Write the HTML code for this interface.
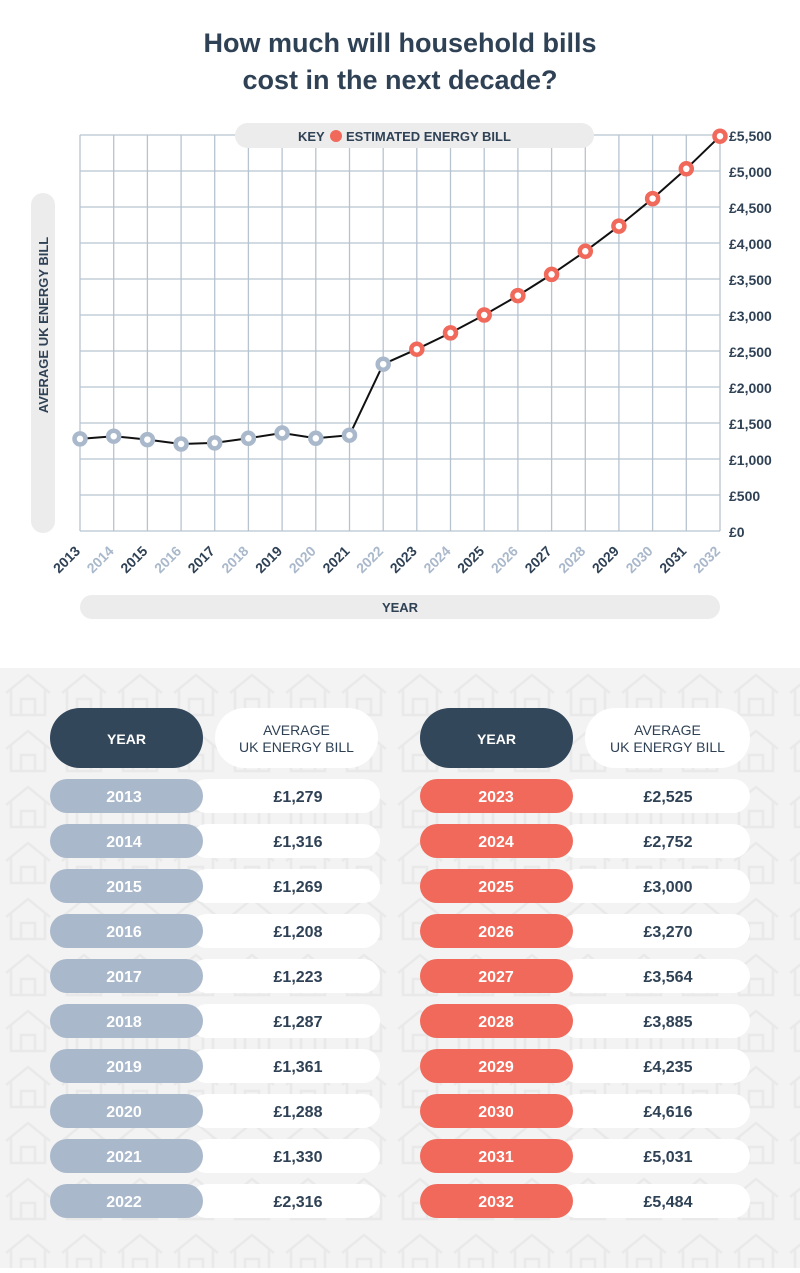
<!DOCTYPE html>
<html><head><meta charset="utf-8"><style>
body{margin:0;width:800px;height:1268px;background:#fff;font-family:"Liberation Sans",sans-serif;overflow:hidden}
</style></head><body>
<svg width="800" height="1268" viewBox="0 0 800 1268" xmlns="http://www.w3.org/2000/svg" font-family="Liberation Sans, sans-serif">
<defs>
<pattern id="h" x="0" y="668" width="56" height="56" patternUnits="userSpaceOnUse">
<path d="M6 25 L28 7 L50 25 M11 21 V47 H45 V21 M21 47 V31 H35 V47" fill="none" stroke="#e9e9e9" stroke-width="2.5"/>
</pattern>
</defs>
<text x="400" y="52" text-anchor="middle" font-size="27" font-weight="bold" fill="#2f4155">How much will household bills</text>
<text x="400" y="89" text-anchor="middle" font-size="27" font-weight="bold" fill="#2f4155">cost in the next decade?</text>
<g stroke="#b8c3d0" stroke-width="1.3">
<line x1="80" y1="135" x2="720" y2="135"/><line x1="80" y1="171" x2="720" y2="171"/><line x1="80" y1="207" x2="720" y2="207"/><line x1="80" y1="243" x2="720" y2="243"/><line x1="80" y1="279" x2="720" y2="279"/><line x1="80" y1="315" x2="720" y2="315"/><line x1="80" y1="351" x2="720" y2="351"/><line x1="80" y1="387" x2="720" y2="387"/><line x1="80" y1="423" x2="720" y2="423"/><line x1="80" y1="459" x2="720" y2="459"/><line x1="80" y1="495" x2="720" y2="495"/><line x1="80" y1="531" x2="720" y2="531"/>
<line x1="80" y1="135" x2="80" y2="531"/><line x1="113.7" y1="135" x2="113.7" y2="531"/><line x1="147.4" y1="135" x2="147.4" y2="531"/><line x1="181.1" y1="135" x2="181.1" y2="531"/><line x1="214.7" y1="135" x2="214.7" y2="531"/><line x1="248.4" y1="135" x2="248.4" y2="531"/><line x1="282.1" y1="135" x2="282.1" y2="531"/><line x1="315.8" y1="135" x2="315.8" y2="531"/><line x1="349.5" y1="135" x2="349.5" y2="531"/><line x1="383.2" y1="135" x2="383.2" y2="531"/><line x1="416.8" y1="135" x2="416.8" y2="531"/><line x1="450.5" y1="135" x2="450.5" y2="531"/><line x1="484.2" y1="135" x2="484.2" y2="531"/><line x1="517.9" y1="135" x2="517.9" y2="531"/><line x1="551.6" y1="135" x2="551.6" y2="531"/><line x1="585.3" y1="135" x2="585.3" y2="531"/><line x1="618.9" y1="135" x2="618.9" y2="531"/><line x1="652.6" y1="135" x2="652.6" y2="531"/><line x1="686.3" y1="135" x2="686.3" y2="531"/><line x1="720" y1="135" x2="720" y2="531"/>
</g>
<rect x="235" y="123" width="359" height="25" rx="12.5" fill="#ececec"/>
<text x="298" y="141" font-size="13" font-weight="bold" fill="#2f4155">KEY</text>
<circle cx="336" cy="136" r="6" fill="#f0695a"/>
<text x="346" y="141" font-size="13" font-weight="bold" fill="#2f4155">ESTIMATED ENERGY BILL</text>
<rect x="31" y="193" width="24" height="340" rx="12" fill="#ececec"/>
<text transform="translate(48,325) rotate(-90)" text-anchor="middle" font-size="13" font-weight="bold" fill="#2f4155">AVERAGE UK ENERGY BILL</text>
<rect x="80" y="595" width="640" height="24" rx="12" fill="#ececec"/>
<text x="400" y="612" text-anchor="middle" font-size="13" font-weight="bold" fill="#2f4155">YEAR</text>
<g font-size="14" fill="#2f4155" font-weight="bold">
<text x="729" y="141">£5,500</text><text x="729" y="177">£5,000</text><text x="729" y="213">£4,500</text><text x="729" y="249">£4,000</text><text x="729" y="285">£3,500</text><text x="729" y="321">£3,000</text><text x="729" y="357">£2,500</text><text x="729" y="393">£2,000</text><text x="729" y="429">£1,500</text><text x="729" y="465">£1,000</text><text x="729" y="501">£500</text><text x="729" y="537">£0</text>
</g>
<polyline fill="none" stroke="#111" stroke-width="2" points="80,438.9 113.7,436.2 147.4,439.6 181.1,444 214.7,442.9 248.4,438.3 282.1,433 315.8,438.3 349.5,435.2 383.2,364.2 416.8,349.2 450.5,332.9 484.2,315 517.9,295.6 551.6,274.4 585.3,251.3 618.9,226.1 652.6,198.6 686.3,168.8 720,136.2"/>
<g fill="#fff" stroke="#a9b8cb" stroke-width="4.5">
<circle cx="80" cy="438.9" r="5.5"/><circle cx="113.7" cy="436.2" r="5.5"/><circle cx="147.4" cy="439.6" r="5.5"/><circle cx="181.1" cy="444" r="5.5"/><circle cx="214.7" cy="442.9" r="5.5"/><circle cx="248.4" cy="438.3" r="5.5"/><circle cx="282.1" cy="433" r="5.5"/><circle cx="315.8" cy="438.3" r="5.5"/><circle cx="349.5" cy="435.2" r="5.5"/><circle cx="383.2" cy="364.2" r="5.5"/>
</g>
<g fill="#fff" stroke="#f0695a" stroke-width="4.5">
<circle cx="416.8" cy="349.2" r="5.5"/><circle cx="450.5" cy="332.9" r="5.5"/><circle cx="484.2" cy="315" r="5.5"/><circle cx="517.9" cy="295.6" r="5.5"/><circle cx="551.6" cy="274.4" r="5.5"/><circle cx="585.3" cy="251.3" r="5.5"/><circle cx="618.9" cy="226.1" r="5.5"/><circle cx="652.6" cy="198.6" r="5.5"/><circle cx="686.3" cy="168.8" r="5.5"/><circle cx="720" cy="136.2" r="5.5"/>
</g>
<g font-size="14" font-weight="bold" text-anchor="end">
<text transform="translate(81,552) rotate(-45)" fill="#2f4155">2013</text>
<text transform="translate(114.7,552) rotate(-45)" fill="#a9b8cb">2014</text>
<text transform="translate(148.4,552) rotate(-45)" fill="#2f4155">2015</text>
<text transform="translate(182.1,552) rotate(-45)" fill="#a9b8cb">2016</text>
<text transform="translate(215.7,552) rotate(-45)" fill="#2f4155">2017</text>
<text transform="translate(249.4,552) rotate(-45)" fill="#a9b8cb">2018</text>
<text transform="translate(283.1,552) rotate(-45)" fill="#2f4155">2019</text>
<text transform="translate(316.8,552) rotate(-45)" fill="#a9b8cb">2020</text>
<text transform="translate(350.5,552) rotate(-45)" fill="#2f4155">2021</text>
<text transform="translate(384.2,552) rotate(-45)" fill="#a9b8cb">2022</text>
<text transform="translate(417.8,552) rotate(-45)" fill="#2f4155">2023</text>
<text transform="translate(451.5,552) rotate(-45)" fill="#a9b8cb">2024</text>
<text transform="translate(485.2,552) rotate(-45)" fill="#2f4155">2025</text>
<text transform="translate(518.9,552) rotate(-45)" fill="#a9b8cb">2026</text>
<text transform="translate(552.6,552) rotate(-45)" fill="#2f4155">2027</text>
<text transform="translate(586.3,552) rotate(-45)" fill="#a9b8cb">2028</text>
<text transform="translate(619.9,552) rotate(-45)" fill="#2f4155">2029</text>
<text transform="translate(653.6,552) rotate(-45)" fill="#a9b8cb">2030</text>
<text transform="translate(687.3,552) rotate(-45)" fill="#2f4155">2031</text>
<text transform="translate(721,552) rotate(-45)" fill="#a9b8cb">2032</text>
</g>
<rect x="0" y="668" width="800" height="600" fill="#f3f3f3"/>
<rect x="0" y="668" width="800" height="600" fill="url(#h)"/>
<rect x="50" y="708" width="153" height="60" rx="30" fill="#33475b"/>
<text x="126.5" y="744" text-anchor="middle" font-size="14" font-weight="bold" fill="#fff">YEAR</text>
<rect x="215" y="708" width="163" height="60" rx="30" fill="#fff"/>
<text x="296.5" y="735" text-anchor="middle" font-size="14" fill="#2f4155">AVERAGE</text>
<text x="296.5" y="752" text-anchor="middle" font-size="14" fill="#2f4155">UK ENERGY BILL</text>
<rect x="420" y="708" width="153" height="60" rx="30" fill="#33475b"/>
<text x="496.5" y="744" text-anchor="middle" font-size="14" font-weight="bold" fill="#fff">YEAR</text>
<rect x="585" y="708" width="165" height="60" rx="30" fill="#fff"/>
<text x="667.5" y="735" text-anchor="middle" font-size="14" fill="#2f4155">AVERAGE</text>
<text x="667.5" y="752" text-anchor="middle" font-size="14" fill="#2f4155">UK ENERGY BILL</text>
<g font-size="16" font-weight="bold" text-anchor="middle">
<g transform="translate(0,0)"><rect x="190" y="779" width="190" height="34" rx="17" fill="#fff"/><rect x="50" y="779" width="153" height="34" rx="17" fill="#a9b8cb"/><text x="124" y="802" fill="#fff">2013</text><text x="298" y="802" fill="#2f4155">£1,279</text>
<rect x="560" y="779" width="190" height="34" rx="17" fill="#fff"/><rect x="420" y="779" width="153" height="34" rx="17" fill="#f0695a"/><text x="496" y="802" fill="#fff">2023</text><text x="668" y="802" fill="#2f4155">£2,525</text></g>
<g transform="translate(0,45)"><rect x="190" y="779" width="190" height="34" rx="17" fill="#fff"/><rect x="50" y="779" width="153" height="34" rx="17" fill="#a9b8cb"/><text x="124" y="802" fill="#fff">2014</text><text x="298" y="802" fill="#2f4155">£1,316</text>
<rect x="560" y="779" width="190" height="34" rx="17" fill="#fff"/><rect x="420" y="779" width="153" height="34" rx="17" fill="#f0695a"/><text x="496" y="802" fill="#fff">2024</text><text x="668" y="802" fill="#2f4155">£2,752</text></g>
<g transform="translate(0,90)"><rect x="190" y="779" width="190" height="34" rx="17" fill="#fff"/><rect x="50" y="779" width="153" height="34" rx="17" fill="#a9b8cb"/><text x="124" y="802" fill="#fff">2015</text><text x="298" y="802" fill="#2f4155">£1,269</text>
<rect x="560" y="779" width="190" height="34" rx="17" fill="#fff"/><rect x="420" y="779" width="153" height="34" rx="17" fill="#f0695a"/><text x="496" y="802" fill="#fff">2025</text><text x="668" y="802" fill="#2f4155">£3,000</text></g>
<g transform="translate(0,135)"><rect x="190" y="779" width="190" height="34" rx="17" fill="#fff"/><rect x="50" y="779" width="153" height="34" rx="17" fill="#a9b8cb"/><text x="124" y="802" fill="#fff">2016</text><text x="298" y="802" fill="#2f4155">£1,208</text>
<rect x="560" y="779" width="190" height="34" rx="17" fill="#fff"/><rect x="420" y="779" width="153" height="34" rx="17" fill="#f0695a"/><text x="496" y="802" fill="#fff">2026</text><text x="668" y="802" fill="#2f4155">£3,270</text></g>
<g transform="translate(0,180)"><rect x="190" y="779" width="190" height="34" rx="17" fill="#fff"/><rect x="50" y="779" width="153" height="34" rx="17" fill="#a9b8cb"/><text x="124" y="802" fill="#fff">2017</text><text x="298" y="802" fill="#2f4155">£1,223</text>
<rect x="560" y="779" width="190" height="34" rx="17" fill="#fff"/><rect x="420" y="779" width="153" height="34" rx="17" fill="#f0695a"/><text x="496" y="802" fill="#fff">2027</text><text x="668" y="802" fill="#2f4155">£3,564</text></g>
<g transform="translate(0,225)"><rect x="190" y="779" width="190" height="34" rx="17" fill="#fff"/><rect x="50" y="779" width="153" height="34" rx="17" fill="#a9b8cb"/><text x="124" y="802" fill="#fff">2018</text><text x="298" y="802" fill="#2f4155">£1,287</text>
<rect x="560" y="779" width="190" height="34" rx="17" fill="#fff"/><rect x="420" y="779" width="153" height="34" rx="17" fill="#f0695a"/><text x="496" y="802" fill="#fff">2028</text><text x="668" y="802" fill="#2f4155">£3,885</text></g>
<g transform="translate(0,270)"><rect x="190" y="779" width="190" height="34" rx="17" fill="#fff"/><rect x="50" y="779" width="153" height="34" rx="17" fill="#a9b8cb"/><text x="124" y="802" fill="#fff">2019</text><text x="298" y="802" fill="#2f4155">£1,361</text>
<rect x="560" y="779" width="190" height="34" rx="17" fill="#fff"/><rect x="420" y="779" width="153" height="34" rx="17" fill="#f0695a"/><text x="496" y="802" fill="#fff">2029</text><text x="668" y="802" fill="#2f4155">£4,235</text></g>
<g transform="translate(0,315)"><rect x="190" y="779" width="190" height="34" rx="17" fill="#fff"/><rect x="50" y="779" width="153" height="34" rx="17" fill="#a9b8cb"/><text x="124" y="802" fill="#fff">2020</text><text x="298" y="802" fill="#2f4155">£1,288</text>
<rect x="560" y="779" width="190" height="34" rx="17" fill="#fff"/><rect x="420" y="779" width="153" height="34" rx="17" fill="#f0695a"/><text x="496" y="802" fill="#fff">2030</text><text x="668" y="802" fill="#2f4155">£4,616</text></g>
<g transform="translate(0,360)"><rect x="190" y="779" width="190" height="34" rx="17" fill="#fff"/><rect x="50" y="779" width="153" height="34" rx="17" fill="#a9b8cb"/><text x="124" y="802" fill="#fff">2021</text><text x="298" y="802" fill="#2f4155">£1,330</text>
<rect x="560" y="779" width="190" height="34" rx="17" fill="#fff"/><rect x="420" y="779" width="153" height="34" rx="17" fill="#f0695a"/><text x="496" y="802" fill="#fff">2031</text><text x="668" y="802" fill="#2f4155">£5,031</text></g>
<g transform="translate(0,405)"><rect x="190" y="779" width="190" height="34" rx="17" fill="#fff"/><rect x="50" y="779" width="153" height="34" rx="17" fill="#a9b8cb"/><text x="124" y="802" fill="#fff">2022</text><text x="298" y="802" fill="#2f4155">£2,316</text>
<rect x="560" y="779" width="190" height="34" rx="17" fill="#fff"/><rect x="420" y="779" width="153" height="34" rx="17" fill="#f0695a"/><text x="496" y="802" fill="#fff">2032</text><text x="668" y="802" fill="#2f4155">£5,484</text></g>
</g>
</svg>
</body></html>
